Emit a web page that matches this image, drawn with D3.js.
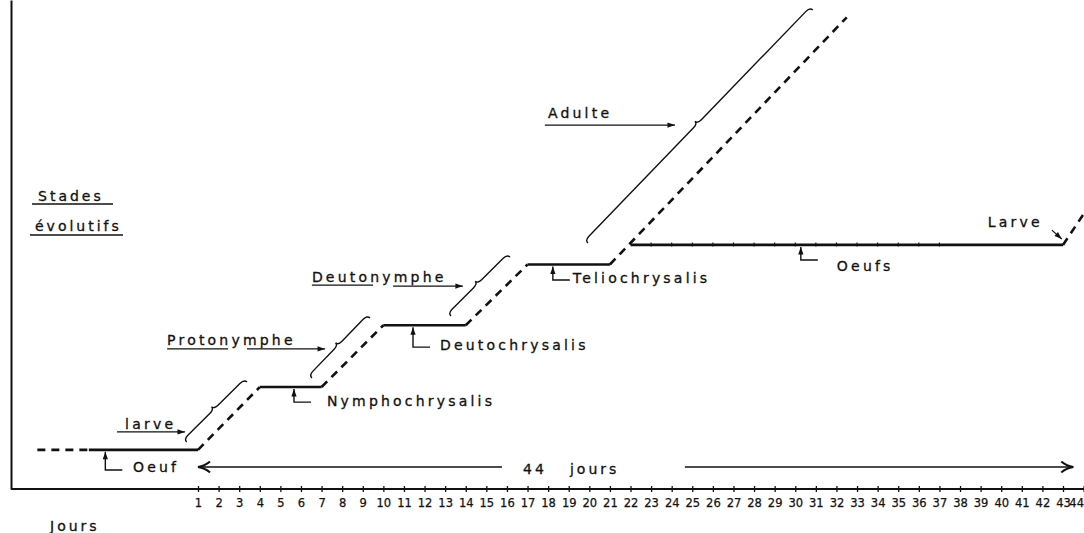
<!DOCTYPE html>
<html><head><meta charset="utf-8">
<script src="https://cdn.jsdelivr.net/npm/d3@7"></script>
<style>
body{margin:0;background:#fff;}
svg text{font-family:"DejaVu Sans",sans-serif;fill:#111;stroke:#111;stroke-width:0.3px;}
svg .tick text{stroke-width:0.25px;}
</style></head><body><svg id="c" width="1084" height="533"></svg>
<script>
// ---------- DATA (days on x, arbitrary "stade" level on y) ----------
const dayTicks = d3.range(1, 45);

const stageNames  = ["Oeuf", "Nymphochrysalis", "Deutochrysalis", "Teliochrysalis", "Oeufs"];
const stageStart  = [-4.3, 4, 10, 17, 22];
const stageEnd    = [1, 7, 14, 21, 43];
const stageLevel  = [1.9, 4.95, 7.95, 10.9, 11.85];
const stageArrowDay    = [-3.5, 5.66, 11.44, 18.23, 30.27];
const stageCornerLevel = [0.92, 4.22, 6.89, 10.15, 11.12];
const stageLabelDay    = [-2.16, 7.26, 12.75, 19.2, 32.02];
const stageLabelLevel  = [0.83, 4.03, 6.75, 10.0, 10.58];

const transFrom = [[-6.8, 1.9], [1, 1.9], [7, 4.95], [14, 7.95], [21, 10.9], [43, 11.85]];
const transTo   = [[-4.3, 1.9], [4, 4.95], [10, 7.95], [17, 10.9], [32.5, 22.9], [44.1, 13.5]];

const activeNames     = ["larve", "Protonymphe", "Deutonymphe", "Adulte"];
const braceTop        = [[3.38, 5.19], [9.35, 8.30], [16.15, 11.26], [30.85, 23.25]];
const braceBottom     = [[0.45, 2.28], [6.53, 5.39], [13.28, 8.40], [19.93, 11.94]];
const activeLabelPos  = [[-2.54, 2.91], [-0.5, 6.99], [6.53, 10.05], [17.99, 18.01]];
const activeArrowFrom = [[-2.93, 2.77], [3.38, 6.80], [10.47, 9.85], [17.84, 17.67]];
const activeArrowTo   = [[0.37, 2.77], [7.17, 6.80], [13.86, 9.85], [24.16, 17.67]];
const activeUnderline = [null, [-0.5, 2.46, 6.80], [6.53, 9.5, 9.9], null];

const oeufsTickDays = d3.range(23, 38);

const larveEndLabel = ["Larve", 39.35, 12.72];
const larveEndArrow = [[42.46, 12.57], [42.94, 12.14]];

const durationText      = ["44", "jours"];
const durationTextDay   = [16.78, 19.06];
const durationTextLevel = 0.73;
const durationLeft  = [15.76, 1];     // drawn toward day 1
const durationRight = [24.64, 43.5];  // drawn toward day 43.5
const durationLevel = 1.07;

const yTitle = ["Stades", "évolutifs"];
const xTitle = "Jours";

// ---------- SCALES ----------
const x = d3.scaleLinear().domain([1, 43]).range([198, 1063]);
const y = d3.scaleLinear().domain([0, 23.74]).range([489, 0]);

const svg = d3.select("#c");
const defs = svg.append("defs");
defs.append("marker").attr("id", "ah").attr("markerUnits", "userSpaceOnUse")
  .attr("viewBox", "0 -4 10 8").attr("refX", 10).attr("refY", 0)
  .attr("markerWidth", 8).attr("markerHeight", 6).attr("orient", "auto-start-reverse")
  .append("path").attr("d", "M0,-3.5L10,0L0,3.5Z").attr("fill", "#111");
defs.append("marker").attr("id", "chev").attr("markerUnits", "userSpaceOnUse")
  .attr("viewBox", "0 -6 14 12").attr("refX", 13).attr("refY", 0)
  .attr("markerWidth", 14).attr("markerHeight", 12).attr("orient", "auto-start-reverse")
  .append("path").attr("d", "M1,-5.5Q6,-1 13,0Q6,1 1,5.5").attr("fill", "none")
  .attr("stroke", "#111").attr("stroke-width", 2);

// ---------- AXES ----------
const yAxisG = svg.append("g").attr("transform", "translate(11,0)")
  .call(d3.axisLeft(y).tickValues([]).tickSizeOuter(0));
yAxisG.select(".domain").attr("stroke", "#111").attr("stroke-width", 2);

const xAxisG = svg.append("g").attr("transform", `translate(0,${y(0)})`)
  .call(d3.axisBottom(x).tickValues(dayTicks).tickSize(3).tickPadding(7).tickFormat(d3.format("d")));
xAxisG.select(".domain").remove();
xAxisG.append("line").attr("x1", 11).attr("x2", 1084).attr("y1", 0).attr("y2", 0)
  .attr("stroke", "#111").attr("stroke-width", 2);
xAxisG.selectAll(".tick line").attr("y1", -3).attr("y2", 3).attr("stroke", "#111").attr("stroke-width", 1.3);
xAxisG.selectAll(".tick text").attr("font-size", 11.5).attr("font-family", "DejaVu Sans").attr("fill", "#111");
// last label squeezed against the right edge, as in the original
xAxisG.selectAll(".tick text").filter(d => d === dayTicks[dayTicks.length - 1])
  .attr("text-anchor", "end").attr("dx", 1083.5 - x(dayTicks[dayTicks.length - 1]));

svg.append("text").attr("x", 50).attr("y", 531).attr("font-size", 14)
  .attr("letter-spacing", 3).text(xTitle);

yTitle.forEach((t, i) => {
  svg.append("text").attr("x", i ? 35 : 38).attr("y", i ? 231 : 201).attr("font-size", 14)
    .attr("letter-spacing", 3).text(t);
  svg.append("line").attr("x1", i ? 30 : 32).attr("x2", i ? 123 : 113)
    .attr("y1", i ? 235 : 204).attr("y2", i ? 235 : 204)
    .attr("stroke", "#111").attr("stroke-width", 1.6);
});

// ---------- MARKS ----------
const line = d3.line().x(d => x(d[0])).y(d => y(d[1]));

// dashed transitions
transFrom.forEach((f, i) => {
  svg.append("path").attr("d", line([f, transTo[i]])).attr("fill", "none")
    .attr("stroke", "#111").attr("stroke-width", 2.6).attr("stroke-dasharray", "8,6");
});

// plateaus (quiescent stages)
stageNames.forEach((n, i) => {
  svg.append("path").attr("d", line([[stageStart[i], stageLevel[i]], [stageEnd[i], stageLevel[i]]]))
    .attr("stroke", "#111").attr("stroke-width", 2.6).attr("fill", "none");
  const ax = x(stageArrowDay[i]), top = y(stageLevel[i]) + 2, cy = y(stageCornerLevel[i]);
  svg.append("path").attr("d", `M${ax + 17},${cy}L${ax},${cy}L${ax},${top}`)
    .attr("fill", "none").attr("stroke", "#111").attr("stroke-width", 1.4).attr("marker-end", "url(#ah)");
  svg.append("text").attr("x", x(stageLabelDay[i])).attr("y", y(stageLabelLevel[i]))
    .attr("font-size", 14).attr("letter-spacing", 3.2).text(n);
});

// small ticks along "Oeufs" line
oeufsTickDays.forEach(d => {
  svg.append("line").attr("x1", x(d)).attr("x2", x(d))
    .attr("y1", y(stageLevel[4]) - 2.5).attr("y2", y(stageLevel[4]) + 1.5)
    .attr("stroke", "#111").attr("stroke-width", 1.1);
});

// curly braces for active stages
function bracePath(a, b, w, c, h) {
  const dx = b[0] - a[0], dy = b[1] - a[1], L = Math.hypot(dx, dy);
  const ux = dx / L, uy = dy / L, nx = -uy, ny = ux;
  const P = (s, t) => [a[0] + ux * s + nx * t, a[1] + uy * s + ny * t].map(v => v.toFixed(2)).join(",");
  return `M${P(0,0)}Q${P(0,w)} ${P(h,w)}L${P(L/2-h,w)}Q${P(L/2,w)} ${P(L/2,w+c)}` +
         `Q${P(L/2,w)} ${P(L/2+h,w)}L${P(L-h,w)}Q${P(L,w)} ${P(L,0)}`;
}
activeNames.forEach((n, i) => {
  const a = [x(braceTop[i][0]), y(braceTop[i][1])];
  const b = [x(braceBottom[i][0]), y(braceBottom[i][1])];
  svg.append("path").attr("d", bracePath(a, b, 4, 3.5, 6)).attr("fill", "none")
    .attr("stroke", "#111").attr("stroke-width", 1.4);
  svg.append("text").attr("x", x(activeLabelPos[i][0])).attr("y", y(activeLabelPos[i][1]))
    .attr("font-size", 14).attr("letter-spacing", 3.2).text(n);
  svg.append("path").attr("d", line([activeArrowFrom[i], activeArrowTo[i]]))
    .attr("stroke", "#111").attr("stroke-width", 1.2).attr("marker-end", "url(#ah)");
  const u = activeUnderline[i];
  if (u) svg.append("path").attr("d", line([[u[0], u[2]], [u[1], u[2]]]))
    .attr("stroke", "#111").attr("stroke-width", 1.2);
});

// final "Larve"
svg.append("text").attr("x", x(larveEndLabel[1])).attr("y", y(larveEndLabel[2]))
  .attr("font-size", 14).attr("letter-spacing", 3.2).text(larveEndLabel[0]);
svg.append("path").attr("d", line(larveEndArrow)).attr("stroke", "#111")
  .attr("stroke-width", 1.2).attr("marker-end", "url(#ah)");

// 44 jours duration arrow
[durationLeft, durationRight].forEach(seg => {
  svg.append("path").attr("d", line([[seg[0], durationLevel], [seg[1], durationLevel]]))
    .attr("stroke", "#111").attr("stroke-width", 1.6).attr("marker-end", "url(#chev)");
});
durationText.forEach((t, i) => {
  svg.append("text").attr("x", x(durationTextDay[i])).attr("y", y(durationTextLevel))
    .attr("font-size", 14).attr("letter-spacing", 3).text(t);
});
</script></body></html>
